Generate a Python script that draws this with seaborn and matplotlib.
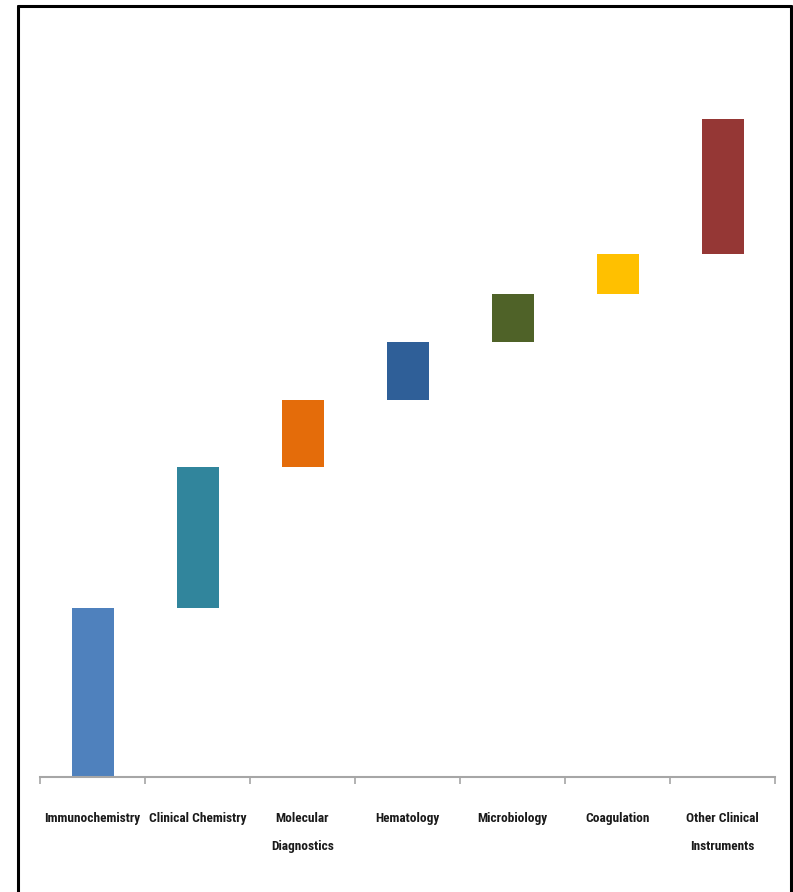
import matplotlib
matplotlib.use("Agg")
import matplotlib.pyplot as plt
from matplotlib.lines import Line2D
from matplotlib.ticker import FixedLocator
import seaborn as sns
import pandas as pd
import numpy as np

# Market share by segment (%), shown as a waterfall
categories = ["Immunochemistry", "Clinical Chemistry", "Molecular\nDiagnostics",
              "Hematology", "Microbiology", "Coagulation",
              "Other Clinical\nInstruments"]
shares = [25.7, 21.4, 10.2, 8.8, 7.3, 6.1, 20.5]
colors = ["#4F81BD", "#31859C", "#E46C0A", "#2F5F98", "#4F6228", "#FFC000", "#953735"]

bottoms = np.concatenate([[0], np.cumsum(shares)[:-1]])
df = pd.DataFrame({"segment": categories, "share": shares, "base": bottoms})

sns.set_theme(style="white")
plt.rcParams["font.family"] = ["Roboto Condensed", "Roboto", "DejaVu Sans"]

fig = plt.figure(figsize=(7.93, 8.92), dpi=100)
ax = fig.add_axes([40 / 793, 1 - 777 / 892, 735 / 793, (777 - 53) / 892])

# floating bars: each segment starts where the previous one ends
sns.barplot(data=df, x="segment", y="share", bottom=df["base"].to_numpy(),
            width=0.4, saturation=1, color=colors[0], linewidth=0, ax=ax)
for patch, c in zip(ax.patches, colors):
    patch.set_facecolor(c)

ax.set_xlim(-0.5, len(categories) - 0.5)
ax.set_ylim(0, 110)
ax.set_xlabel("")
ax.set_ylabel("")
ax.set_yticks([])

for side in ["top", "right", "left"]:
    ax.spines[side].set_visible(False)
ax.spines["bottom"].set_color("#a6a6a6")
ax.spines["bottom"].set_linewidth(1.5)

# category labels centred under the bars, tick marks at the boundaries
ax.tick_params(axis="x", which="major", length=0, pad=25)
ax.xaxis.set_minor_locator(FixedLocator(np.arange(-0.5, len(categories), 1.0)))
ax.tick_params(axis="x", which="minor", length=5, width=1.2, color="#a6a6a6",
               direction="out", bottom=True)
for lbl in ax.get_xticklabels():
    lbl.set_fontweight("bold")
    lbl.set_fontsize(9.6)
    lbl.set_color("#1a1a1a")
    lbl.set_linespacing(2.55)
    lbl.set_verticalalignment("top")

# outer frame
lw = 2.2
xl, xr, yt = 17.5 / 793, 790.5 / 793, 1 - 5.5 / 892
fig.add_artist(Line2D([xl, xl], [0, yt], transform=fig.transFigure, color="black", lw=lw))
fig.add_artist(Line2D([xl, xr], [yt, yt], transform=fig.transFigure, color="black", lw=lw))
fig.add_artist(Line2D([xr, xr], [0, yt], transform=fig.transFigure, color="black", lw=lw))

fig.savefig("out.png", dpi=100)
